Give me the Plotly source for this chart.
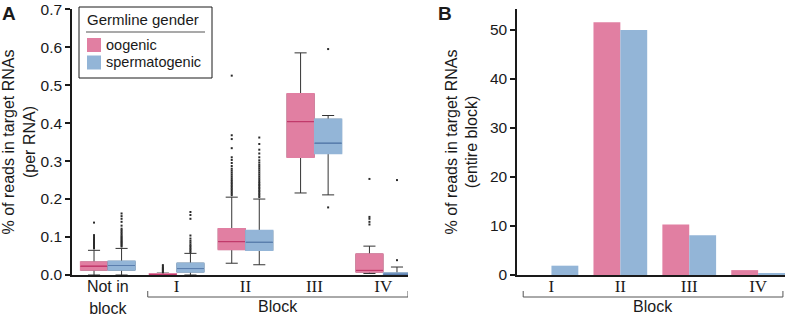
import plotly.graph_objects as go

# ---------------- data ----------------
groups_a = ["Not in block", "I", "II", "III", "IV"]

# oogenic (pink) box stats per group
oo_q1 = [0.013, 0.000, 0.067, 0.310, 0.008]
oo_med = [0.023, 0.001, 0.088, 0.404, 0.012]
oo_q3 = [0.034, 0.003, 0.122, 0.477, 0.055]
oo_lo = [0.000, 0.000, 0.031, 0.216, 0.004]
oo_hi = [0.065, 0.005, 0.205, 0.585, 0.076]

# spermatogenic (blue) box stats per group
sp_q1 = [0.013, 0.008, 0.065, 0.320, 0.000]
sp_med = [0.025, 0.017, 0.086, 0.347, 0.002]
sp_q3 = [0.036, 0.031, 0.117, 0.410, 0.005]
sp_lo = [0.000, 0.000, 0.027, 0.211, 0.000]
sp_hi = [0.070, 0.057, 0.200, 0.420, 0.021]

# outliers per group
oo_out = [
    [0.070, 0.073, 0.076, 0.079, 0.082, 0.085, 0.088, 0.092, 0.095, 0.100, 0.105, 0.138],
    [0.007, 0.010, 0.013, 0.016, 0.019, 0.022, 0.026],
    [0.210, 0.214, 0.218, 0.222, 0.226, 0.230, 0.234, 0.238, 0.242, 0.246, 0.250, 0.255,
     0.260, 0.265, 0.270, 0.275, 0.280, 0.287, 0.295, 0.303, 0.310, 0.334, 0.358, 0.368, 0.525],
    [],
    [0.133, 0.140, 0.148, 0.153, 0.253],
]
sp_out = [
    [0.075, 0.078, 0.081, 0.084, 0.087, 0.090, 0.093, 0.096, 0.099, 0.102, 0.106, 0.110,
     0.114, 0.118, 0.122, 0.130, 0.140, 0.148, 0.155, 0.162],
    [0.060, 0.064, 0.068, 0.072, 0.076, 0.080, 0.085, 0.090, 0.096, 0.104, 0.148, 0.158, 0.166],
    [0.205, 0.209, 0.213, 0.217, 0.221, 0.225, 0.229, 0.233, 0.237, 0.241, 0.245, 0.250,
     0.255, 0.260, 0.265, 0.270, 0.275, 0.280, 0.285, 0.290, 0.296, 0.302, 0.310, 0.320,
     0.330, 0.345, 0.362],
    [0.178, 0.595],
    [0.039, 0.250],
]

# panel B: % of reads in target RNAs (entire block)
groups_b = ["I", "II", "III", "IV"]
oo_block = [0.0, 51.6, 10.3, 1.0]
sp_block = [1.9, 50.0, 8.1, 0.35]

series_names = ["oogenic", "spermatogenic"]
legend_title = "Germline gender"
a_ticks = ["Not in block", "I", "II", "III", "IV"]
a_yticks = [0, 0.1, 0.2, 0.3, 0.4, 0.5, 0.6, 0.7]
b_yticks = [0, 10, 20, 30, 40, 50]

# ---------------- styles ----------------
PINK = "#E17FA2"
BLUE = "#93B5D7"
PINK_MED = "#C23B6C"
BLUE_MED = "#5B7FAE"
INK = "#1a1a1a"
SANS = "Liberation Sans, Arial, sans-serif"
SERIF = "Liberation Serif, Times New Roman, serif"
OFF = 0.2
BW = 0.39
FS = 15.5

L, R, T, B = 72, 7, 9, 42
W, H = 792, 317
pw, ph = W - L - R, H - T - B


def px_x(p):
    return (p - L) / pw


def px_y(p):
    return (H - B - p) / ph


fig = go.Figure()


def add_boxes(idx, q1, med, q3, lo, hi, fill, medcol, outs, sign):
    xs = [i + sign * OFF for i in idx]
    # whiskers
    fig.add_trace(go.Box(x=xs, q1=q1, median=med, q3=q3, lowerfence=lo, upperfence=hi,
                         width=BW, fillcolor=fill, line=dict(color="#333333", width=1),
                         whiskerwidth=0.45, boxpoints=False, showlegend=False,
                         hoverinfo="skip", xaxis="x", yaxis="y"))
    # box body cover (hides dark outline)
    fig.add_trace(go.Box(x=xs, q1=q1, median=med, q3=q3, lowerfence=q1, upperfence=q3,
                         width=BW, fillcolor=fill, line=dict(color=fill, width=1.5),
                         whiskerwidth=0, boxpoints=False, showlegend=False,
                         hoverinfo="skip", xaxis="x", yaxis="y"))
    # median line
    fig.add_trace(go.Box(x=xs, q1=med, median=med, q3=med, lowerfence=med, upperfence=med,
                         width=BW, fillcolor=fill, line=dict(color=medcol, width=1),
                         whiskerwidth=0, boxpoints=False, showlegend=False,
                         hoverinfo="skip", xaxis="x", yaxis="y"))
    ox, oy = [], []
    for i, vals in zip(idx, outs):
        ox += [i + sign * OFF] * len(vals)
        oy += vals
    fig.add_trace(go.Scatter(x=ox, y=oy, mode="markers",
                             marker=dict(symbol="square", size=2, color="#2a2a2a"),
                             showlegend=False, hoverinfo="skip", xaxis="x", yaxis="y"))


idx_a = list(range(len(groups_a)))
add_boxes(idx_a, oo_q1, oo_med, oo_q3, oo_lo, oo_hi, PINK, PINK_MED, oo_out, -1)
add_boxes(idx_a, sp_q1, sp_med, sp_q3, sp_lo, sp_hi, BLUE, BLUE_MED, sp_out, +1)

idx_b = list(range(len(groups_b)))
fig.add_trace(go.Bar(x=idx_b, y=oo_block, name=series_names[0],
                     marker=dict(color=PINK, line=dict(width=0)), xaxis="x2", yaxis="y2"))
fig.add_trace(go.Bar(x=idx_b, y=sp_block, name=series_names[1],
                     marker=dict(color=BLUE, line=dict(width=0)), xaxis="x2", yaxis="y2"))

span = 'font-family:Liberation Sans, Arial, sans-serif;font-size:16px'
first = a_ticks[0].rsplit(" ", 1)
a_ticktext = [f'<span style="{span}">{first[0]}</span><br><span style="{span}">{first[1]}</span>'] + a_ticks[1:]

axis_common = dict(showline=True, linecolor=INK, linewidth=1.5, showgrid=False, zeroline=False,
                   automargin=False)

fig.update_layout(
    width=W, height=H,
    margin=dict(l=L, r=R, t=T, b=B, autoexpand=False),
    paper_bgcolor="white", plot_bgcolor="white",
    barmode="group", bargap=0.22, bargroupgap=0,
    font=dict(family=SANS, size=FS, color=INK),
    showlegend=False,
    xaxis=dict(domain=[0, px_x(408)], range=[-0.52, 4.36], tickvals=idx_a, ticktext=a_ticktext,
               ticks="", tickfont=dict(family=SERIF, size=17, color=INK), ticklabelstandoff=-5,
               **axis_common),
    yaxis=dict(domain=[0, 1], range=[0, 0.7005], tickvals=a_yticks, tickformat=".1f",
               ticks="outside", ticklen=5, tickwidth=1.5, tickcolor=INK,
               tickfont=dict(size=FS), ticklabeloverflow="allow",
               title=dict(text="% of reads in target RNAs<br>(per RNA)", font=dict(size=16), standoff=8),
               **axis_common),
    xaxis2=dict(domain=[px_x(517), 1.0], range=[-0.5, 3.39], tickvals=idx_b, ticktext=groups_b,
                ticks="", tickfont=dict(family=SERIF, size=17, color=INK), ticklabelstandoff=-5,
                anchor="y2", **axis_common),
    yaxis2=dict(domain=[0, 1], range=[0, 54.3], tickvals=b_yticks, anchor="x2",
                ticks="outside", ticklen=5, tickwidth=1.5, tickcolor=INK,
                tickfont=dict(size=FS), ticklabeloverflow="allow",
                title=dict(text="% of reads in target RNAs<br>(entire block)", font=dict(size=16), standoff=8),
                **axis_common),
)

# ---- legend (drawn as a boxed key) ----
LF = 14.5
fig.add_shape(type="rect", xref="paper", yref="paper", x0=px_x(79), x1=px_x(212),
              y0=px_y(78), y1=px_y(7), line=dict(color=INK, width=1), fillcolor="white", layer="above")
fig.add_annotation(x=px_x(86), y=px_y(20), xref="paper", yref="paper", text=legend_title,
                   showarrow=False, xanchor="left", yanchor="middle", borderpad=0,
                   font=dict(size=15, family=SANS, color=INK))
fig.add_shape(type="line", xref="paper", yref="paper", x0=px_x(86), x1=px_x(205),
              y0=px_y(32), y1=px_y(32), line=dict(color="#555555", width=1.2), layer="above")
for name, col, yc in [(series_names[0], PINK, 45), (series_names[1], BLUE, 62.5)]:
    fig.add_shape(type="rect", xref="paper", yref="paper", x0=px_x(87), x1=px_x(101),
                  y0=px_y(yc + 7), y1=px_y(yc - 7), line=dict(width=0), fillcolor=col, layer="above")
    fig.add_annotation(x=px_x(105), y=px_y(yc), xref="paper", yref="paper", text=name,
                       showarrow=False, xanchor="left", yanchor="middle", borderpad=0,
                       font=dict(size=LF, family=SANS, color=INK))

# brackets under block groups
yb, yt = px_y(297), px_y(291)
for xr, x0, x1 in [("x", 0.58, 4.36), ("x2", -0.41, 3.36)]:
    fig.add_shape(type="path", xref=xr, yref="paper",
                  path=f"M {x0},{yt} L {x0},{yb} L {x1},{yb} L {x1},{yt}",
                  line=dict(color="#555555", width=1))

for xr, xc in [("x", 2.47), ("x2", 1.475)]:
    fig.add_annotation(x=xc, xref=xr, y=px_y(306), yref="paper", text="Block", showarrow=False,
                       font=dict(size=16, family=SANS, color=INK), yanchor="middle", borderpad=0)

for txt, xp, yp in [("A", 9, 13), ("B", 445, 13)]:
    fig.add_annotation(x=px_x(xp), y=px_y(yp), xref="paper", yref="paper", text=f"<b>{txt}</b>",
                       showarrow=False, font=dict(size=19, family=SANS, color=INK),
                       xanchor="center", yanchor="middle")

fig.write_html("out.html", config={"displayModeBar": False},
               post_script="document.body.style.margin='0';document.body.style.overflow='hidden';")
